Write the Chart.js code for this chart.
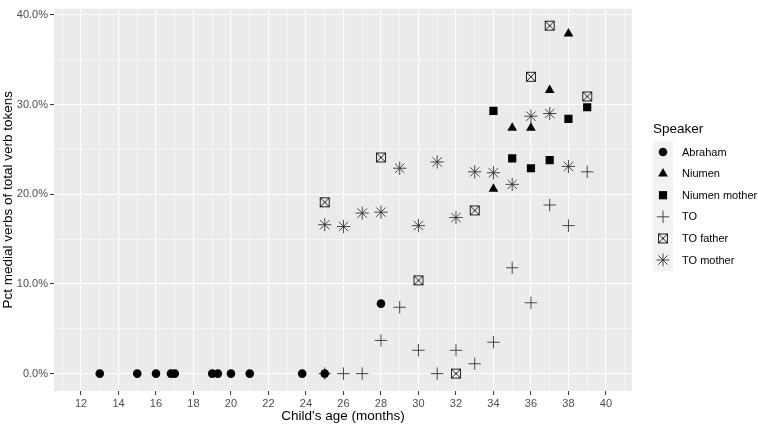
<!DOCTYPE html>
<html>
<head>
<meta charset="utf-8">
<script src="https://cdn.jsdelivr.net/npm/chart.js@4/dist/chart.umd.min.js"></script>
<style>
  html, body { margin: 0; padding: 0; background: #fff; }
  #wrap { width: 758px; height: 425px; }
</style>
</head>
<body>
<div id="wrap"><canvas id="myChart" width="758" height="425"></canvas></div>
<script>
// speakers and their points (x = child's age in months, y = percent)
const speakers = ["Abraham", "Niumen", "Niumen mother", "TO", "TO father", "TO mother"];

const abrahamAge = [13, 15, 16, 16.8, 17, 19, 19.3, 20, 21, 23.8, 25, 28];
const abrahamPct = [0, 0, 0, 0, 0, 0, 0, 0, 0, 0, 0, 7.8];

const niumenAge = [34, 35, 36, 37, 38];
const niumenPct = [20.6, 27.4, 27.4, 31.6, 37.9];

const niumenMotherAge = [34, 35, 36, 37, 38, 39];
const niumenMotherPct = [29.3, 24.0, 22.9, 23.8, 28.4, 29.7];

const toAge = [25, 26, 27, 28, 29, 30, 31, 32, 33, 34, 35, 36, 37, 38, 39];
const toPct = [0, 0, 0, 3.7, 7.4, 2.6, 0, 2.6, 1.1, 3.5, 11.8, 7.9, 18.8, 16.5, 22.5];

const toFatherAge = [25, 28, 30, 32, 33, 36, 37, 39];
const toFatherPct = [19.1, 24.1, 10.4, 0, 18.2, 33.1, 38.8, 30.9];

const toMotherAge = [25, 26, 27, 28, 29, 30, 31, 32, 33, 34, 35, 36, 37, 38];
const toMotherPct = [16.6, 16.4, 17.9, 18.0, 22.9, 16.5, 23.6, 17.4, 22.5, 22.4, 21.1, 28.7, 29.0, 23.1];

const xTicks = [11, 12, 13, 14, 15, 16, 17, 18, 19, 20, 21, 22, 23, 24, 25, 26, 27, 28, 29, 30, 31, 32, 33, 34, 35, 36, 37, 38, 39, 40, 41];
const yTicks = [0, 5, 10, 15, 20, 25, 30, 35, 40];

const FONT = "'Liberation Sans', Arial, sans-serif";

function toPoints(xs, ys) {
  return xs.map((x, i) => ({ x: x, y: ys[i] }));
}

// square with an x inside (ggplot shape 7)
function boxedX() {
  const c = document.createElement("canvas");
  c.width = 12;
  c.height = 12;
  const g = c.getContext("2d");
  g.strokeStyle = "#222";
  g.lineWidth = 1;
  g.strokeRect(1.5, 1.5, 9, 9);
  g.beginPath();
  g.moveTo(1.5, 1.5);
  g.lineTo(10.5, 10.5);
  g.moveTo(10.5, 1.5);
  g.lineTo(1.5, 10.5);
  g.stroke();
  return c;
}
const boxedXImg = boxedX();

const styles = [
  { pointStyle: "circle", radius: 4.3, bg: "#000", border: "#000", bw: 0 },
  { pointStyle: "triangle", radius: 5.6, bg: "#000", border: "#000", bw: 0 },
  { pointStyle: "rect", radius: 5.8, bg: "#000", border: "#000", bw: 0 },
  { pointStyle: "cross", radius: 6.2, bg: "#333", border: "#333", bw: 0.9 },
  { pointStyle: boxedXImg, radius: 6, bg: "#333", border: "#333", bw: 1 },
  { pointStyle: "star", radius: 6.6, bg: "#333", border: "#333", bw: 0.9 },
];

const series = [
  toPoints(abrahamAge, abrahamPct),
  toPoints(niumenAge, niumenPct),
  toPoints(niumenMotherAge, niumenMotherPct),
  toPoints(toAge, toPct),
  toPoints(toFatherAge, toFatherPct),
  toPoints(toMotherAge, toMotherPct),
];

const datasets = speakers.map((name, i) => ({
  label: name,
  data: series[i],
  pointStyle: styles[i].pointStyle,
  pointRadius: styles[i].radius,
  pointBackgroundColor: styles[i].bg,
  pointBorderColor: styles[i].border,
  pointBorderWidth: styles[i].bw,
}));

const panelBg = {
  id: "panelBg",
  beforeDraw(chart) {
    const { ctx, chartArea: a } = chart;
    ctx.save();
    ctx.fillStyle = "#EBEBEB";
    ctx.fillRect(a.left, a.top, a.right - a.left, a.bottom - a.top);
    ctx.restore();
  },
};

// ggplot-like legend with grey key boxes
const ggLegend = {
  id: "ggLegend",
  afterDraw(chart) {
    const ctx = chart.ctx;
    const left = 653;
    const firstY = 152;
    const step = 21.6;
    ctx.save();
    ctx.fillStyle = "#000";
    ctx.font = "13.5px " + FONT;
    ctx.textBaseline = "middle";
    ctx.textAlign = "left";
    ctx.fillText("Speaker", left, 129);
    ctx.font = "11px " + FONT;
    speakers.forEach((name, i) => {
      const cy = firstY + i * step;
      ctx.fillStyle = "#F2F2F2";
      ctx.fillRect(left, cy - step / 2, 20, step);
      ctx.fillStyle = styles[i].bg;
      ctx.strokeStyle = styles[i].border;
      ctx.lineWidth = styles[i].bw;
      Chart.helpers.drawPoint(ctx, {
        pointStyle: styles[i].pointStyle,
        rotation: 0,
        radius: styles[i].radius,
        borderWidth: styles[i].bw,
      }, left + 10, cy);
      ctx.fillStyle = "#000";
      ctx.fillText(name, left + 29, cy + 0.5);
    });
    ctx.restore();
  },
};

new Chart(document.getElementById("myChart"), {
  type: "scatter",
  data: { datasets: datasets },
  plugins: [panelBg, ggLegend],
  options: {
    responsive: false,
    animation: false,
    events: [],
    layout: { padding: { top: 1, right: 126, left: 0, bottom: 0 } },
    plugins: {
      legend: { display: false },
      tooltip: { enabled: false },
    },
    scales: {
      x: {
        type: "linear",
        min: 10.56,
        max: 41.39,
        afterBuildTicks: (axis) => { axis.ticks = xTicks.map((v) => ({ value: v })); },
        afterFit: (axis) => { axis.height = 34; },
        border: { display: false },
        grid: {
          color: "#FFFFFF",
          lineWidth: (c) => (c.tick && c.tick.value % 2 === 0 ? 1.1 : 0.5),
          tickColor: (c) => (c.tick && c.tick.value % 2 === 0 ? "#333333" : "rgba(0,0,0,0)"),
          tickWidth: 1,
          tickLength: 4,
        },
        ticks: {
          autoSkip: false,
          maxRotation: 0,
          padding: 2,
          color: "#4D4D4D",
          font: { family: FONT, size: 11 },
          callback: (v) => (v % 2 === 0 ? String(v) : ""),
        },
        title: {
          display: true,
          text: "Child's age (months)",
          color: "#000",
          font: { family: FONT, size: 13.5 },
          padding: { top: 0, bottom: 1 },
        },
      },
      y: {
        type: "linear",
        min: -1.94,
        max: 40.7,
        afterBuildTicks: (axis) => { axis.ticks = yTicks.map((v) => ({ value: v })); },
        afterFit: (axis) => { axis.width = 54; },
        border: { display: false },
        grid: {
          color: "#FFFFFF",
          lineWidth: (c) => (c.tick && c.tick.value % 10 === 0 ? 1.1 : 0.5),
          tickColor: (c) => (c.tick && c.tick.value % 10 === 0 ? "#333333" : "rgba(0,0,0,0)"),
          tickWidth: 1,
          tickLength: 4,
        },
        ticks: {
          autoSkip: false,
          padding: 2,
          color: "#4D4D4D",
          font: { family: FONT, size: 11 },
          callback: (v) => (v % 10 === 0 ? v.toFixed(1) + "%" : ""),
        },
        title: {
          display: true,
          text: "Pct medial verbs of total verb tokens",
          color: "#000",
          font: { family: FONT, size: 13.5 },
          padding: { top: 0, bottom: 0 },
        },
      },
    },
  },
});
</script>
</body>
</html>
